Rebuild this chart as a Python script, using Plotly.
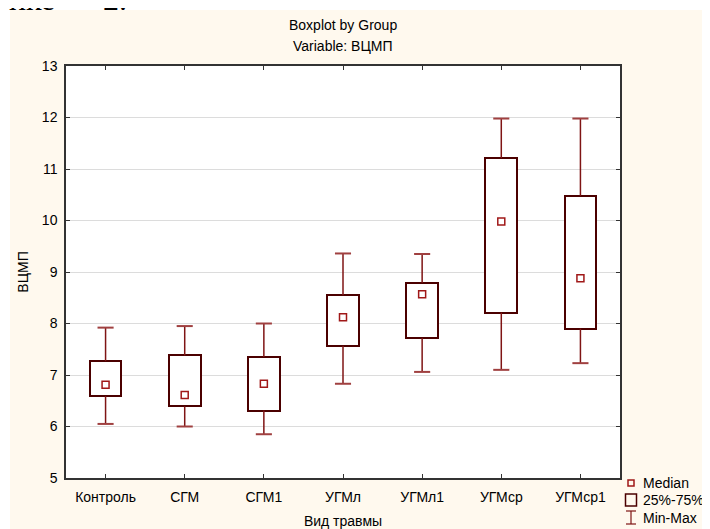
import plotly.graph_objects as go

# ---- data ----
categories = ["Контроль", "СГМ", "СГМ1", "УГМл", "УГМл1", "УГМср", "УГМср1"]
v_min = [6.05, 6.00, 5.85, 6.83, 7.06, 7.10, 7.23]
q1 = [6.59, 6.39, 6.31, 7.57, 7.72, 8.21, 7.90]
median = [6.81, 6.61, 6.83, 8.12, 8.57, 9.98, 8.88]
q3 = [7.27, 7.38, 7.35, 8.55, 8.79, 11.21, 10.48]
v_max = [7.92, 7.95, 8.00, 9.36, 9.35, 11.98, 11.98]
y_ticks = [5, 6, 7, 8, 9, 10, 11, 12, 13]
legend_labels = ["Median", "25%-75%", "Min-Max"]

# ---- layout geometry (pixels, relative to the figure; page adds an 8px margin) ----
OFF = 8
W, H = 710 - OFF, 529 - OFF
L, R, T, B = 66 - OFF, 620 - OFF, 66 - OFF, 478 - OFF


def px_x(sx):
    """screen x -> paper fraction"""
    return (sx - OFF - L) / (R - L)


def px_y(sy):
    """screen y -> paper fraction"""
    return (B - (sy - OFF)) / (B - T)


CREAM = "#FFF9EE"
BOX_COL = "#4B0000"
WHISK_COL = "#7F1414"
CAP_COL = "#A04040"
MED_COL = "#A01818"
FONT = "Liberation Sans, Arial, sans-serif"
FS = 14

fig = go.Figure()

# boxes (25%-75%)
fig.add_trace(go.Bar(
    x=categories, y=[b - a for a, b in zip(q1, q3)], base=q1, width=0.4,
    marker=dict(color="white", line=dict(color=BOX_COL, width=2)),
    hoverinfo="skip", showlegend=False))

# whiskers
wx, wy = [], []
for c, lo, a, b, hi in zip(categories, v_min, q1, q3, v_max):
    wx += [c, c, None, c, c, None]
    wy += [b, hi, None, a, lo, None]
fig.add_trace(go.Scatter(x=wx, y=wy, mode="lines",
                         line=dict(color=WHISK_COL, width=1.5),
                         hoverinfo="skip", showlegend=False))

# caps
fig.add_trace(go.Scatter(
    x=categories + categories, y=v_min + v_max, mode="markers",
    marker=dict(symbol="line-ew", size=11.5, color=CAP_COL,
                line=dict(color=CAP_COL, width=2)),
    hoverinfo="skip", showlegend=False))

# medians
fig.add_trace(go.Scatter(
    x=categories, y=median, mode="markers",
    marker=dict(symbol="square-open", size=7, color=MED_COL,
                line=dict(color=MED_COL, width=1.5)),
    hoverinfo="skip", showlegend=False))

shapes = [
    # thin white strips so the cream panel starts at (10,10) on screen
    dict(type="rect", xref="paper", yref="paper", layer="below",
         x0=px_x(8), x1=px_x(710), y0=px_y(10), y1=px_y(8),
         fillcolor="white", line=dict(width=0)),
    dict(type="rect", xref="paper", yref="paper", layer="below",
         x0=px_x(8), x1=px_x(10), y0=px_y(529), y1=px_y(8),
         fillcolor="white", line=dict(width=0)),
    # legend symbols
    dict(type="rect", xref="paper", yref="paper",
         x0=px_x(628), x1=px_x(634), y0=px_y(486), y1=px_y(480),
         line=dict(color=MED_COL, width=1.5)),
    dict(type="rect", xref="paper", yref="paper",
         x0=px_x(625.5), x1=px_x(636.5), y0=px_y(506), y1=px_y(494),
         line=dict(color=BOX_COL, width=1.5)),
    dict(type="line", xref="paper", yref="paper",
         x0=px_x(631), x1=px_x(631), y0=px_y(524), y1=px_y(511),
         line=dict(color=WHISK_COL, width=1.2)),
    dict(type="line", xref="paper", yref="paper",
         x0=px_x(626), x1=px_x(636), y0=px_y(511), y1=px_y(511),
         line=dict(color=WHISK_COL, width=1.2)),
    dict(type="line", xref="paper", yref="paper",
         x0=px_x(626), x1=px_x(636), y0=px_y(524), y1=px_y(524),
         line=dict(color=WHISK_COL, width=1.2)),
]

annotations = [
    dict(text="Boxplot by Group", x=0.5, y=px_y(25), xref="paper", yref="paper",
         xanchor="center", yanchor="middle", showarrow=False,
         font=dict(family=FONT, size=FS, color="black")),
    dict(text="Variable: ВЦМП", x=0.5, y=px_y(46), xref="paper", yref="paper",
         xanchor="center", yanchor="middle", showarrow=False,
         font=dict(family=FONT, size=FS, color="black")),
    dict(text="рисунке" + "\u00a0" * 6 + "2.", x=px_x(129), y=px_y(19),
         xref="paper", yref="paper",
         xanchor="right", yanchor="bottom", showarrow=False,
         font=dict(family="Liberation Serif, serif", size=32, color="black")),
]
for lbl, sy in zip(legend_labels, [483, 500, 518]):
    annotations.append(dict(text=lbl, x=px_x(641), y=px_y(sy), xref="paper", yref="paper",
                            xanchor="left", yanchor="middle", showarrow=False,
                            font=dict(family=FONT, size=FS, color="black")))

fig.update_layout(
    width=W, height=H,
    margin=dict(l=L, r=W - R, t=T, b=H - B, autoexpand=False),
    paper_bgcolor=CREAM, plot_bgcolor="white",
    showlegend=False, bargap=0,
    shapes=shapes, annotations=annotations,
    font=dict(family=FONT, size=FS, color="black"),
    xaxis=dict(type="category", range=[-0.5, 6.5], showgrid=False,
               showline=True, linecolor="#333333", linewidth=1.5, mirror="allticks",
               ticks="inside", ticklen=4, tickcolor="#333333", tickwidth=1,
               ticklabelstandoff=5,
               tickfont=dict(family=FONT, size=FS, color="black"),
               title=dict(text="Вид травмы", standoff=13,
                          font=dict(family=FONT, size=FS, color="black"))),
    yaxis=dict(range=[5, 13], tickvals=y_ticks, ticktext=[str(v) for v in y_ticks],
               showgrid=True, gridcolor="#DCDCDC", gridwidth=1, zeroline=False,
               showline=True, linecolor="#333333", linewidth=1.5, mirror="allticks",
               ticks="inside", ticklen=4, tickcolor="#333333", tickwidth=1,
               ticklabelstandoff=4,
               tickfont=dict(family=FONT, size=FS, color="black"),
               title=dict(text="ВЦМП", standoff=10,
                          font=dict(family=FONT, size=FS, color="black"))),
)

fig.write_html("out.html")
